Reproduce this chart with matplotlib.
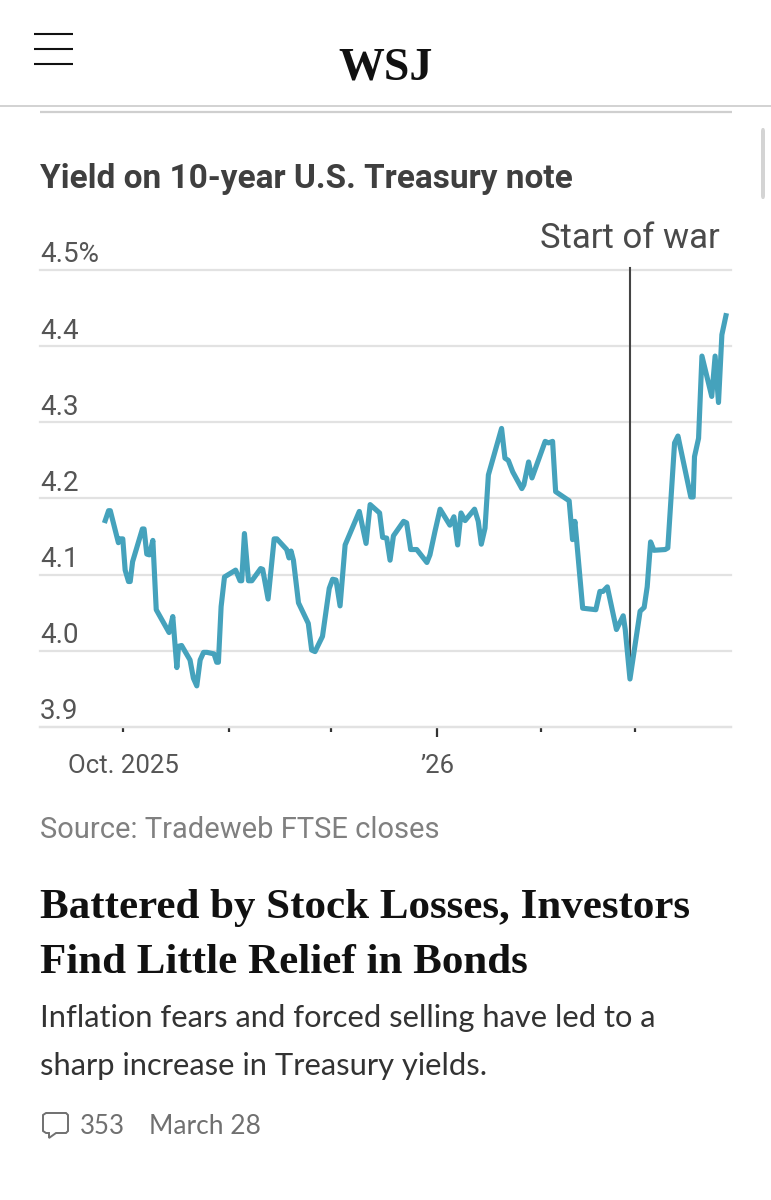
import matplotlib
matplotlib.use("Agg")
import matplotlib.pyplot as plt
from matplotlib.patches import FancyBboxPatch, Polygon
from matplotlib.lines import Line2D

W, H = 771, 1200

# days counted from the Oct. 2025 tick
days = [-5.3, -4.3, -3.8, -1.4, -0.9, -0.1, 0.6, 1.6, 2.1, 2.8, 5.7, 6.2, 7.0, 7.8, 8.8, 9.8,
        13.6, 14.7, 15.9, 16.4, 17.3, 19.8, 20.8, 21.8, 22.8, 23.8, 24.8, 26.9, 27.7, 28.2, 29.0,
        30.0, 33.3, 34.6, 35.1, 35.9, 37.1, 38.1, 40.7, 41.3, 42.9, 44.7, 45.5, 48.4, 49.1, 49.7,
        50.4, 51.9, 54.8, 55.8, 56.8, 59.0, 61.0, 62.0, 63.0, 64.2, 65.7, 69.9, 71.9, 73.1, 75.9,
        76.8, 78.0, 79.0, 80.0, 83.0, 83.9, 85.1, 86.9, 89.9, 90.8, 92.3, 93.8, 96.7, 97.9, 99.0,
        100.0, 101.2, 104.0, 105.1, 106.0, 107.1, 108.1, 112.0, 113.0, 114.0, 115.3, 118.0, 118.6,
        120.0, 121.0, 124.9, 125.9, 127.1, 128.0, 132.0, 133.0, 133.7, 134.2, 136.0, 139.9, 141.1,
        142.0, 143.3, 146.0, 148.0, 148.6, 150.0, 153.0, 154.2, 155.1, 156.1, 157.1, 160.4, 161.2,
        163.2, 164.2, 168.0, 168.7, 169.1, 170.3, 171.3, 174.2, 175.2, 176.2, 177.2, 178.4]
yields = [4.171, 4.184, 4.184, 4.142, 4.147, 4.147, 4.106, 4.091, 4.091, 4.117, 4.160, 4.160, 4.127,
          4.126, 4.145, 4.054, 4.024, 4.045, 3.978, 4.006, 4.007, 3.988, 3.964, 3.954, 3.988, 3.998,
          3.998, 3.996, 3.985, 3.985, 4.058, 4.097, 4.106, 4.092, 4.092, 4.154, 4.092, 4.092, 4.108,
          4.107, 4.068, 4.147, 4.147, 4.133, 4.122, 4.131, 4.119, 4.063, 4.036, 4.001, 3.999, 4.019,
          4.082, 4.094, 4.093, 4.059, 4.139, 4.183, 4.141, 4.192, 4.181, 4.149, 4.148, 4.119, 4.151,
          4.170, 4.168, 4.133, 4.133, 4.116, 4.126, 4.157, 4.186, 4.165, 4.176, 4.139, 4.181, 4.171,
          4.186, 4.170, 4.140, 4.161, 4.231, 4.292, 4.253, 4.250, 4.235, 4.213, 4.218, 4.248, 4.227,
          4.275, 4.273, 4.275, 4.209, 4.197, 4.146, 4.170, 4.146, 4.056, 4.054, 4.078, 4.078, 4.084,
          4.028, 4.046, 4.028, 3.963, 4.052, 4.057, 4.084, 4.143, 4.132, 4.133, 4.135, 4.273, 4.282,
          4.202, 4.202, 4.255, 4.279, 4.387, 4.334, 4.387, 4.326, 4.415, 4.440]

y_ticks = [3.9, 4.0, 4.1, 4.2, 4.3, 4.4, 4.5]
y_labels = ["3.9", "4.0", "4.1", "4.2", "4.3", "4.4", "4.5%"]
# month ticks as they sit on the chart's own axis
month_ticks = [0, 31.4, 61.5, 92.9, 123.6, 151.6]
month_labels = ["Oct. 2025", "", "", "\u201926", "", ""]
war_day = 150.0
war_low = 3.963

title = "Yield on 10-year U.S. Treasury note"
source = "Source: Tradeweb FTSE closes"
headline = ["Battered by Stock Losses, Investors", "Find Little Relief in Bonds"]
deck = ["Inflation fears and forced selling have led to a", "sharp increase in Treasury yields."]

SANS = ["Roboto", "DejaVu Sans"]
BODY = ["Lato", "Roboto", "DejaVu Sans"]
SERIF = ["Liberation Serif", "DejaVu Serif"]


def fx(x):
    return x / W


def fy(y):
    return 1 - y / H


fig = plt.figure(figsize=(W / 100, H / 100), dpi=100, facecolor="white")


def label(x, y, s, size, color, family=SANS, **kw):
    return fig.text(fx(x), fy(y), s, fontsize=size, color=color, family=family, va="baseline", **kw)


def rule(x0, x1, y, color, lw):
    fig.add_artist(Line2D([fx(x0), fx(x1)], [fy(y), fy(y)], color=color, lw=lw, solid_capstyle="butt"))


# page furniture
for y in [34, 49, 64]:
    rule(34, 73, y, "#111111", 1.5)
rule(0, W, 105.5, "#cfcfcf", 1.3)
rule(40, 732, 112, "#cfcfcf", 1.6)
label(386, 79, "WSJ", 33, "#111111", family=SERIF, ha="center", fontweight="bold")
fig.add_artist(FancyBboxPatch((fx(761), fy(199)), 4 / W, 71 / H, boxstyle="round,pad=0,rounding_size=0.002",
                              transform=fig.transFigure, fc="#d4d4d4", ec="none", mutation_aspect=1.5))

label(40, 188, title, 24, "#3f3f3f", fontweight="bold")
label(720, 248, "Start of war", 25, "#4a4a4a", ha="right")

# chart
ax = fig.add_axes([fx(40), fy(727), (731 - 40) / W, (727 - 270) / H])
ax.set_xlim(-24.6, 179.9)
ax.set_ylim(3.9, 4.5)
ax.set_facecolor("none")
for s in ["top", "left", "right"]:
    ax.spines[s].set_visible(False)
ax.spines["bottom"].set_color("#e2e2e2")
ax.spines["bottom"].set_linewidth(1.6)

ax.set_yticks(y_ticks)
ax.set_yticklabels([])
ax.tick_params(axis="y", length=0)
ax.grid(axis="y", color="#e2e2e2", lw=1.6, clip_on=False)
ax.set_axisbelow(True)
for v, s in zip(y_ticks, y_labels):
    ax.annotate(s, (0, v), xycoords=ax.get_yaxis_transform(), xytext=(0, 5.5), textcoords="offset points",
                fontsize=20, color="#555555", family=SANS, va="baseline", ha="left", annotation_clip=False)

ax.set_xticks(month_ticks, month_labels)
ax.tick_params(axis="x", length=3.4, width=1.6, color="#333333", labelsize=18.5, labelcolor="#555555", pad=16)
for lab in ax.get_xticklabels():
    lab.set_family(SANS)
for tick, m in zip(ax.xaxis.get_major_ticks(), month_labels):
    if m.startswith("\u2019"):
        tick.tick1line.set_markersize(7.5)

ax.plot([war_day, war_day], [war_low, 4.503], color="#444444", lw=1.5, clip_on=False, zorder=2)
ax.plot(days, yields, color="#45a2bc", lw=3.7, solid_joinstyle="round", clip_on=False, zorder=3)

label(40, 838, source, 21, "#808080")

for s, y in zip(headline, [918, 973]):
    label(40, y, s, 31, "#111111", family=SERIF, fontweight="bold")
for s, y in zip(deck, [1027, 1075]):
    label(40, y, s, 22.25, "#333333", family=BODY)

# comment bubble
fig.add_artist(Polygon([(fx(46), fy(1113)), (fx(66), fy(1113)), (fx(68), fy(1115)), (fx(68), fy(1131)),
                        (fx(66), fy(1133)), (fx(56), fy(1133)), (fx(49), fy(1138)), (fx(49), fy(1133)),
                        (fx(46), fy(1133)), (fx(43), fy(1131)), (fx(43), fy(1115))],
                       closed=True, transform=fig.transFigure, fc="none", ec="#707070", lw=1.4))
label(80, 1134, "353", 18.5, "#707070", family=BODY)
label(149, 1134, "March 28", 19, "#707070", family=BODY)

fig.savefig("out.png", dpi=100, facecolor="white")
